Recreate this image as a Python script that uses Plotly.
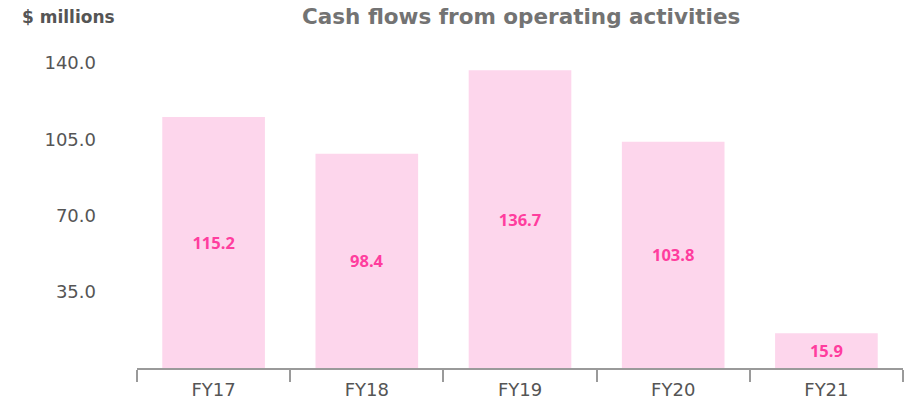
import plotly.graph_objects as go

categories = ["FY17", "FY18", "FY19", "FY20", "FY21"]
values = [115.2, 98.4, 136.7, 103.8, 15.9]
labels = ["115.2", "98.4", "136.7", "103.8", "15.9"]
y_ticks = [35, 70, 105, 140]
y_tick_text = ["35.0", "70.0", "105.0", "140.0"]

TICK_FONT = "DejaVu Sans"
HEAD_FONT = "DejaVu Sans"
LABEL_FONT = "Open Sans"

W, H = 905, 404
L, R, T, B = 137, 2, 63, 36
pw, ph = W - L - R, H - T - B


def px_x(x):
    return (x - L) / pw


def px_y(y):
    return 1 - (y - T) / ph


fig = go.Figure(go.Bar(
    x=categories, y=values, text=labels,
    textposition="inside", insidetextanchor="middle",
    textfont=dict(family=LABEL_FONT, size=16.5, color="#FF3D9E", weight="bold"),
    marker=dict(color="#FDD6EC", line=dict(width=0)),
    cliponaxis=False,
))

fig.update_layout(
    width=W, height=H,
    margin=dict(l=L, r=R, t=T, b=B),
    paper_bgcolor="white", plot_bgcolor="white",
    bargap=0.33,
    showlegend=False,
    font=dict(family=TICK_FONT, color="#555555"),
    annotations=[
        dict(text="<b>Cash flows from operating activities</b>",
             xref="paper", yref="paper", x=px_x(521), y=px_y(16.5),
             xanchor="center", yanchor="middle", showarrow=False,
             font=dict(family=HEAD_FONT, size=21.5, color="#737373")),
        dict(text="<b>$ millions</b>",
             xref="paper", yref="paper", x=px_x(20), y=px_y(16.5),
             xanchor="left", yanchor="middle", showarrow=False,
             font=dict(family=HEAD_FONT, size=17, color="#555555")),
    ],
)

fig.update_xaxes(
    automargin=False,
    showline=True, linecolor="#9a9a9a", linewidth=1.5,
    ticks="outside", tickson="boundaries", ticklen=12, tickcolor="#9a9a9a", tickwidth=1.5,
    tickfont=dict(family=TICK_FONT, size=18, color="#555555"),
    ticklabelstandoff=5,
    showgrid=False,
)
fig.update_yaxes(
    automargin=False,
    range=[0, 140], tickvals=y_ticks, ticktext=y_tick_text,
    showgrid=False, zeroline=False, showline=False,
    tickfont=dict(family=TICK_FONT, size=18, color="#555555"),
    ticklabelstandoff=40,
)

fig.write_html("out.html", config={"displayModeBar": False},
               post_script="document.body.style.margin='0px';")
